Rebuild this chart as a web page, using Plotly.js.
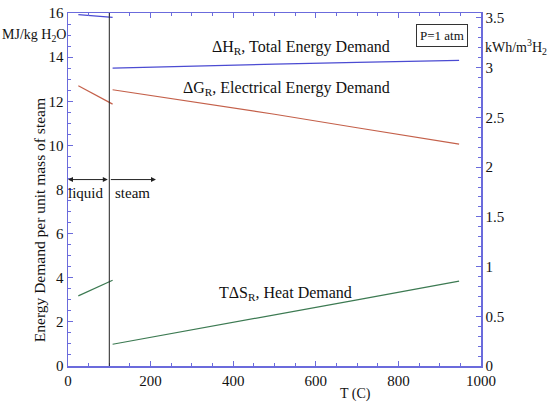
<!DOCTYPE html>
<html>
<head>
<meta charset="utf-8">
<script src="https://cdn.plot.ly/plotly-3.0.1.min.js"></script>
<style>
  html, body { margin: 0; padding: 0; background: #fff; }
  #chart { width: 550px; height: 406px; }
</style>
</head>
<body>
<div id="chart"></div>
<script>
// temperatures, deg C
const liquidT = [25, 108];
const steamT = [108, 300, 500, 700, 947];

// energy demand, MJ/kg H2O
const dHLiquid = [15.93, 15.8];
const dGLiquid = [12.7, 11.87];
const tdsLiquid = [3.18, 3.89];

const dHSteam = [13.5, 13.6, 13.68, 13.76, 13.85];
const dGSteam = [12.52, 11.97, 11.41, 10.8, 10.06];
const tdsSteam = [0.985, 1.63, 2.3, 3.0, 3.85];

const boilingT = 100;
const arrowLevel = 8.45;
const steamArrowEnd = 213;

const blue = '#4b4bd2';
const red = '#c4604a';
const green = '#3c7a52';
const axisCol = '#6b6bdc';
const font = 'Liberation Serif, Times New Roman, serif';

function line(x, y, color) {
  return { x: x, y: y, type: 'scatter', mode: 'lines', line: { color: color, width: 1.2 }, hoverinfo: 'skip' };
}

const traces = [
  line(liquidT, dHLiquid, blue),
  line(steamT, dHSteam, blue),
  line(liquidT, dGLiquid, red),
  line(steamT, dGSteam, red),
  line(liquidT, tdsLiquid, green),
  line(steamT, tdsSteam, green),
  // empty trace so the right-hand axis gets drawn
  { x: [], y: [], yaxis: 'y2', type: 'scatter', mode: 'lines', hoverinfo: 'skip' }
];

const tickFont = { family: font, size: 15, color: '#111' };

function label(x, y, text, size, ref, extra) {
  return Object.assign({
    x: x, y: y, xref: ref || 'x', yref: ref === 'paper' ? 'paper' : 'y',
    xanchor: 'center', yanchor: 'middle', showarrow: false,
    text: text, font: { size: size }
  }, extra || {});
}

const layout = {
  width: 550,
  height: 406,
  margin: { l: 68, r: 69, t: 13, b: 40 },
  paper_bgcolor: '#fff',
  plot_bgcolor: '#fff',
  showlegend: false,
  font: { family: font, color: '#111' },
  xaxis: {
    range: [0, 1000], dtick: 200, showgrid: false, zeroline: false,
    showline: true, linecolor: axisCol, linewidth: 1.5, mirror: 'ticks',
    ticks: 'inside', ticklen: 5, tickcolor: axisCol,
    minor: { dtick: 50, ticks: 'inside', ticklen: 3, tickcolor: axisCol },
    tickfont: tickFont
  },
  yaxis: {
    range: [0, 16], dtick: 2, showgrid: false, zeroline: false,
    showline: true, linecolor: axisCol, linewidth: 1.5,
    ticks: 'inside', ticklen: 5, tickcolor: axisCol,
    minor: { dtick: 0.5, ticks: 'inside', ticklen: 3, tickcolor: axisCol },
    tickfont: tickFont
  },
  yaxis2: {
    overlaying: 'y', side: 'right', range: [0, 3.55], dtick: 0.5,
    showgrid: false, zeroline: false,
    showline: true, linecolor: axisCol, linewidth: 1.5,
    ticks: 'inside', ticklen: 5, tickcolor: axisCol,
    minor: { dtick: 0.1, ticks: 'inside', ticklen: 3, tickcolor: axisCol },
    tickfont: tickFont
  },
  shapes: [
    { type: 'line', xref: 'x', yref: 'y', x0: boilingT, x1: boilingT, y0: 0, y1: 16,
      line: { color: '#222', width: 1 } }
  ],
  annotations: [
    label(565, 14.42, 'ΔH<sub>R</sub>, Total Energy Demand', 16),
    label(530, 12.6, 'ΔG<sub>R</sub>, Electrical Energy Demand', 16),
    label(526, 3.3, 'TΔS<sub>R</sub>, Heat Demand', 16),
    label(906, 14.96, 'P=1 atm', 13, 'x', { bordercolor: '#333', borderwidth: 1, borderpad: 3 }),
    label(44, 7.84, 'liquid', 15),
    label(156, 7.84, 'steam', 15),
    // double-headed arrow over liquid range
    { x: 0, y: arrowLevel, ax: boilingT, ay: arrowLevel, xref: 'x', yref: 'y', axref: 'x', ayref: 'y',
      text: '', showarrow: true, arrowhead: 2, arrowside: 'end+start', arrowsize: 1, arrowwidth: 1, arrowcolor: '#222' },
    { x: steamArrowEnd, y: arrowLevel, ax: boilingT, ay: arrowLevel, xref: 'x', yref: 'y', axref: 'x', ayref: 'y',
      text: '', showarrow: true, arrowhead: 2, arrowsize: 1, arrowwidth: 1, arrowcolor: '#222' },
    label(-0.082, 0.935, 'MJ/kg H<sub>2</sub>O', 14, 'paper'),
    label(1.085, 0.905, 'kWh/m<sup>3</sup>H<sub>2</sub>', 14, 'paper'),
    label(-0.07, 0.062, 'Energy Demand per unit mass of steam', 15.5, 'paper',
      { textangle: -90, yanchor: 'bottom' }),
    label(0.697, -0.08, 'T (C)', 14, 'paper')
  ]
};

Plotly.newPlot('chart', traces, layout, { displayModeBar: false, staticPlot: true });
</script>
</body>
</html>
